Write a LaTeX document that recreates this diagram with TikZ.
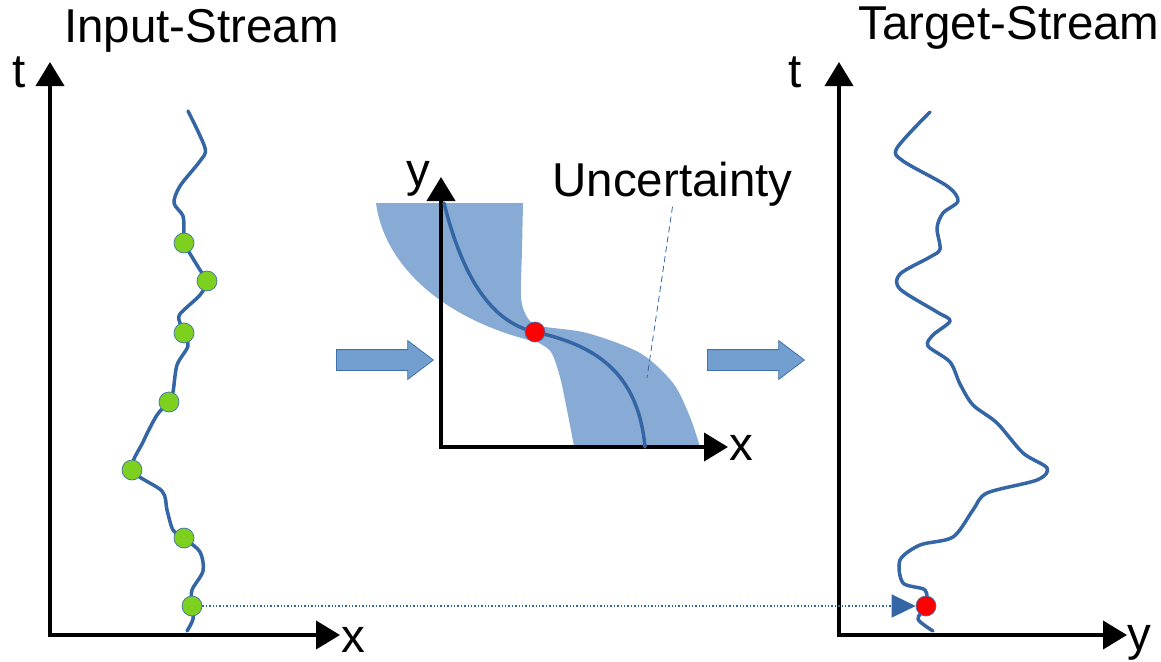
\documentclass[tikz,border=0pt]{standalone}
\usepackage{fontspec}
\setmainfont{Liberation Sans}
\usetikzlibrary{arrows.meta,shapes.arrows}
\definecolor{curve}{RGB}{52,101,164}
\definecolor{band}{RGB}{136,171,213}
\definecolor{block}{RGB}{114,159,207}
\definecolor{blockedge}{RGB}{65,113,170}
\definecolor{dotgreen}{RGB}{126,208,30}
\newcommand{\bigtext}{\fontsize{47.5}{54}\selectfont}
\tikzset{
  axis/.style={line width=4pt,line cap=rect,-{Triangle[length=24pt,width=28pt]}},
  stream/.style={draw=curve,line width=3.5pt,line cap=round,line join=round},
  gdot/.style={circle,fill=dotgreen,draw=blockedge,line width=0.7pt,minimum size=20pt,inner sep=0},
  rdot/.style={circle,fill=red,draw=blockedge,line width=0.7pt,minimum size=20pt,inner sep=0},
  lab/.style={font=\bigtext,inner sep=0,anchor=base},
  pass/.style={single arrow,fill=block,draw=blockedge,line width=0.8pt,minimum height=97pt,anchor=tail,
    single arrow head extend=9pt,single arrow tip angle=74,inner sep=0,text height=10pt,text depth=10pt},
  lead/.style={draw=curve,line width=0.8pt,dash pattern=on 6pt off 4pt},
  link/.style={draw=curve,line width=1.4pt,dotted,-{Triangle[length=24pt,width=23pt,fill=curve]}}
}

\begin{document}
\begin{tikzpicture}[x=1pt,y=-1pt]
  \useasboundingbox (0,0) rectangle (1161,661);

  % input stream
  \node[lab] (intitle) at (201.5,42) {Input-Stream};
  \coordinate (inO) at (50,635);
  \coordinate (inT) at (50,62);
  \coordinate (inX) at (340,635);
  \draw[axis] (inO) -- (inT);
  \draw[axis] (inO) -- (inX);
  \node[lab] (int) at (19.5,88) {t};
  \node[lab] (inx) at (353,652) {x};
  \draw[stream] plot[smooth] coordinates {(188,111) (205,148) (200,161) (180,186) (174,203)
    (183,216) (184,234) (184,243) (200,270) (207,281) (200,295) (180,314) (180,323) (184,333)
    (188,346) (177,365) (173,392) (169,402) (157,415) (143,442) (132,470) (162,491) (167,510)
    (173,530) (184,538) (200,552) (203,571) (192,590) (192,605) (193,619) (187,631)};
  \foreach \n/\p in {1/{184,243},2/{207,281},3/{184,333},4/{169,402},5/{132,470},6/{184,538},7/{192,606}}
    \node[gdot] (g\n) at (\p) {};

  % mapping with uncertainty
  \fill[band] (376,203) -- (523,203)
    -- plot[smooth] coordinates {(523,203) (522,250) (521,297) (527,317) (540,326) (587,333)
      (640,353) (673,383) (690,417) (700,447)}
    -- (574,446)
    -- plot[smooth] coordinates {(574,446) (567,410) (560,377) (551,352) (537,342)}
    .. controls (450,322) and (385,270) .. (376,203)
    -- cycle;
  \coordinate (mapO) at (441,447);
  \coordinate (mapY) at (441,177);
  \coordinate (mapX) at (728,447);
  \draw[axis] (mapO) -- (mapY);
  \draw[axis] (mapO) -- (mapX);
  \node[lab] (mapy) at (418.5,186) {y};
  \node[lab] (mapx) at (741,460) {x};
  \draw[stream] (444,203) .. controls (462,275) and (490,322) .. (535,332)
    .. controls (595,345) and (638,372) .. (645,447);
  \node[rdot] (r1) at (535,332) {};
  \node[lab] (unclab) at (672.5,196.7) {Uncertainty};
  \coordinate (unctip) at (647,378);
  \draw[lead] (unclab.south) -- (unctip);

  \node[pass] (a1) at (336,360) {};
  \node[pass] (a2) at (707,360) {};

  % target stream
  \node[lab] (outtitle) at (1009,40) {Target-Stream};
  \coordinate (outO) at (839,635);
  \coordinate (outT) at (839,62);
  \coordinate (outY) at (1127,635);
  \draw[axis] (outO) -- (outT);
  \draw[axis] (outO) -- (outY);
  \node[lab] (outt) at (795,88) {t};
  \node[lab] (outy) at (1139,650) {y};
  \draw[stream] plot[smooth] coordinates {(930,112) (897,148) (903,161) (947,186) (958,201)
    (943,213) (937,228) (940,249) (930,257) (900,274) (900,289) (937,312) (950,321) (933,335)
    (928,346) (950,362) (960,384) (973,405) (997,423) (1023,453) (1047,468) (1037,480)
    (987,493) (973,510) (953,537) (920,545) (900,560) (903,583) (925,590) (926,606)
    (918,619) (933,631)};
  \node[rdot] (r2) at (926,606) {};

  \draw[link] (g7) -- (r2);
\end{tikzpicture}
\end{document}
